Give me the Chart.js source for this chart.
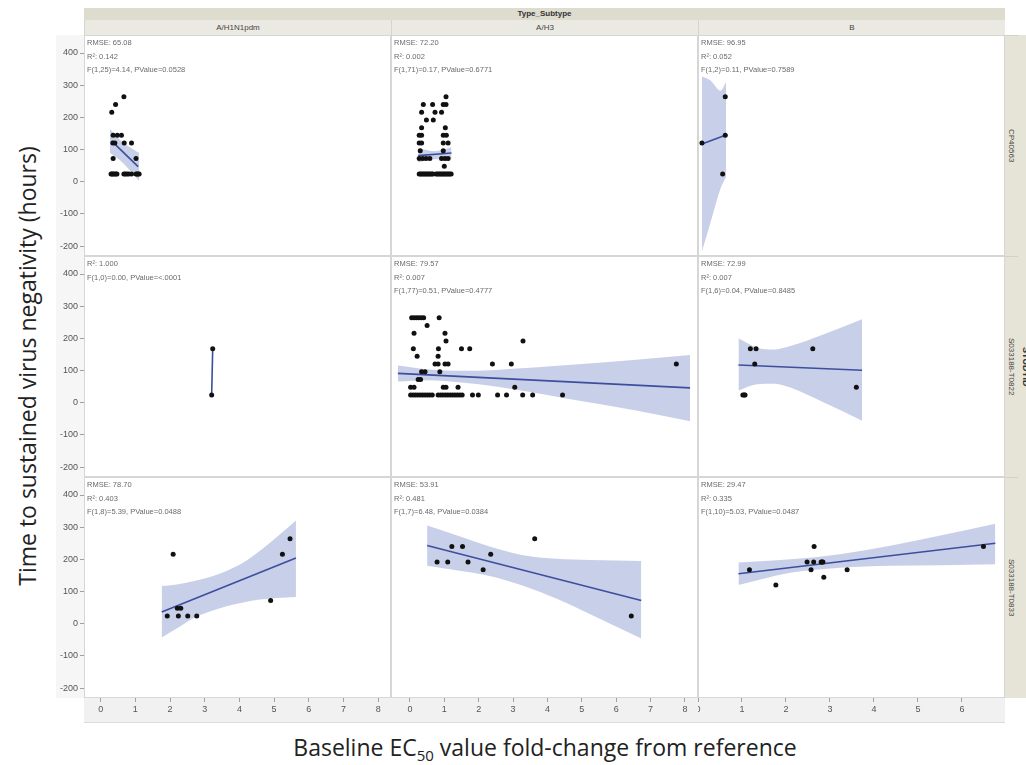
<!DOCTYPE html>
<html lang="en">
<head>
<meta charset="UTF-8">
<title>Time to sustained virus negativity vs baseline EC50 fold-change</title>
<script src="https://cdn.jsdelivr.net/npm/chart.js"></script>
<style>
  body { margin: 0; background: #fff; }
  #page { position: relative; width: 1026px; height: 765px; overflow: hidden; font-family: "Liberation Sans", Arial, sans-serif; }
  #page div, #page canvas { position: absolute; }
  .strip { background: #ebeae2; color: #444; font-size: 8px; text-align: center; box-sizing: border-box; line-height: 15px; }
  .rowlab { writing-mode: vertical-rl; font-size: 8px; color: #444; text-align: center; line-height: 13px; box-sizing: border-box; }
  .title { font-family: "Open Sans", sans-serif; font-size: 23px; color: #222; white-space: nowrap; text-align: center; }
</style>
</head>
<body>
<div id="page"></div>
<script>
// categories and ticks
const subtypes = ['A/H1N1pdm', 'A/H3', 'B'];
const studies = ['CP40563', 'S033188-T0822', 'S033188-T0833'];
const yTicks = [-200, -100, 0, 100, 200, 300, 400];
const xTicksA = [0, 1, 2, 3, 4, 5, 6, 7, 8];
const xTicksB = [0, 1, 2, 3, 4, 5, 6];

// CP40563 - A/H1N1pdm
const cpH1X = [0.32, 0.43, 0.67, 0.36, 0.48, 0.6, 0.35, 0.41, 0.68, 0.89, 0.36, 1.02,
  0.3, 0.33, 0.36, 0.4, 0.44, 0.47, 0.67, 0.71, 0.76, 0.81, 0.89, 1.02, 1.05, 1.08, 1.11];
const cpH1Y = [216, 240, 264, 144, 144, 144, 120, 120, 120, 120, 72, 72,
  24, 24, 24, 24, 24, 24, 24, 24, 24, 24, 24, 24, 24, 24, 24];
const cpH1FitX = [0.32, 1.08];
const cpH1FitY = [126, 47];
const cpH1BandX = [0.27, 0.6, 1.11];
const cpH1BandHi = [163, 126, 89];
const cpH1BandLo = [89, 63, 2];
const cpH1Stats = ['RMSE: 65.08', 'R\u00b2: 0.142', 'F(1,25)=4.14, PValue=0.0528'];

// CP40563 - A/H3
const cpH3X = [1.05, 0.39, 0.66, 0.97, 1.05, 0.34, 0.73, 0.92, 0.48, 0.68, 0.34, 1.03,
  0.27, 0.34, 0.97, 1.06, 0.27, 0.34, 0.97, 1.11, 0.3, 0.97,
  0.27, 0.37, 0.47, 0.58, 0.92, 1.02, 1.11, 1.0,
  0.27, 0.31, 0.35, 0.39, 0.43, 0.47, 0.51, 0.55, 0.59, 0.63, 0.67,
  0.76, 0.8, 0.84, 0.88, 0.92, 0.96, 1.0, 1.04, 1.08, 1.12, 1.16, 1.2];
const cpH3Y = [264, 240, 240, 240, 240, 216, 216, 216, 192, 192, 168, 168,
  144, 144, 144, 144, 120, 120, 120, 120, 96, 96,
  72, 72, 72, 72, 72, 72, 72, 48,
  24, 24, 24, 24, 24, 24, 24, 24, 24, 24, 24,
  24, 24, 24, 24, 24, 24, 24, 24, 24, 24, 24, 24];
const cpH3FitX = [0.24, 1.21];
const cpH3FitY = [81, 89];
const cpH3BandX = [0.24, 0.7, 1.21];
const cpH3BandHi = [104, 95, 107];
const cpH3BandLo = [60, 70, 70];
const cpH3Stats = ['RMSE: 72.20', 'R\u00b2: 0.002', 'F(1,71)=0.17, PValue=0.6771'];

// CP40563 - B
const cpBX = [0.09, 0.62, 0.62, 0.56];
const cpBY = [120, 264, 144, 24];
const cpBFitX = [0.09, 0.62];
const cpBFitY = [117, 144];
const cpBBandX = [0.09, 0.28, 0.51, 0.64];
const cpBBandHi = [327, 315, 283, 310];
const cpBBandLo = [-216, -129, -22, 15];
const cpBStats = ['RMSE: 96.95', 'R\u00b2: 0.052', 'F(1,2)=0.11, PValue=0.7589'];

// S033188-T0822 - A/H1N1pdm
const t22H1X = [3.2, 3.23];
const t22H1Y = [24, 168];
const t22H1FitX = [3.2, 3.23];
const t22H1FitY = [24, 168];
const t22H1BandX = [];
const t22H1BandHi = [];
const t22H1BandLo = [];
const t22H1Stats = ['R\u00b2: 1.000', 'F(1,0)=0.00, PValue=<.0001'];

// S033188-T0822 - A/H3
const t22H3X = [0.05, 0.12, 0.19, 0.26, 0.33, 0.4, 0.85, 0.5, 0.12, 1.02, 1.05, 3.29,
  0.1, 0.83, 1.5, 1.74, 0.21, 0.82, 0.73, 0.82, 1.02, 1.11, 2.4, 2.95, 7.75,
  0.34, 0.44, 0.87, 0.24, 0.31, 0.02, 0.12, 0.97, 1.05, 1.4, 3.05,
  0.02, 0.09, 0.16, 0.23, 0.3, 0.37, 0.44, 0.51, 0.58, 0.65,
  0.82, 0.89, 0.96, 1.03, 1.1, 1.17, 1.24, 1.31, 1.38, 1.45, 1.52,
  1.82, 1.99, 2.55, 2.81, 3.28, 3.57, 4.44];
const t22H3Y = [264, 264, 264, 264, 264, 264, 264, 240, 216, 216, 192, 192,
  168, 168, 168, 168, 144, 144, 120, 120, 120, 120, 120, 120, 120,
  96, 96, 96, 72, 72, 48, 48, 48, 48, 48, 48,
  24, 24, 24, 24, 24, 24, 24, 24, 24, 24,
  24, 24, 24, 24, 24, 24, 24, 24, 24, 24, 24,
  24, 24, 24, 24, 24, 24, 24];
const t22H3FitX = [-0.35, 8.15];
const t22H3FitY = [91, 46];
const t22H3BandX = [-0.35, 0.5, 1.5, 2.5, 4.5, 6.5, 8.15];
const t22H3BandHi = [116, 104, 99, 102, 116, 133, 148];
const t22H3BandLo = [66, 70, 63, 50, 14, -23, -58];
const t22H3Stats = ['RMSE: 79.57', 'R\u00b2: 0.007', 'F(1,77)=0.51, PValue=0.4777'];

// S033188-T0822 - B
const t22BX = [1.02, 1.05, 1.07, 1.19, 1.32, 1.29, 2.61, 3.6];
const t22BY = [24, 24, 24, 168, 168, 120, 168, 48];
const t22BFitX = [0.92, 3.73];
const t22BFitY = [117, 101];
const t22BBandX = [0.92, 1.34, 1.72, 2.1, 2.85, 3.73];
const t22BBandHi = [200, 171, 165, 176, 212, 259];
const t22BBandLo = [38, 57, 59, 47, 1, -56];
const t22BStats = ['RMSE: 72.99', 'R\u00b2: 0.007', 'F(1,6)=0.04, PValue=0.8485'];

// S033188-T0833 - A/H1N1pdm
const t33H1X = [1.92, 2.09, 2.21, 2.31, 2.24, 2.51, 2.77, 4.9, 5.24, 5.46];
const t33H1Y = [24, 216, 48, 48, 24, 24, 24, 72, 216, 264];
const t33H1FitX = [1.76, 5.63];
const t33H1FitY = [36, 204];
const t33H1BandX = [1.76, 2.19, 2.67, 3.15, 3.63, 4.11, 4.59, 5.07, 5.63];
const t33H1BandHi = [117, 122, 132, 145, 164, 190, 227, 269, 321];
const t33H1BandLo = [-43, -15, 17, 38, 54, 66, 75, 80, 83];
const t33H1Stats = ['RMSE: 78.70', 'R\u00b2: 0.403', 'F(1,8)=5.39, PValue=0.0488'];

// S033188-T0833 - A/H3
const t33H3X = [0.79, 1.1, 1.22, 1.53, 1.69, 2.13, 2.35, 3.63, 6.44];
const t33H3Y = [192, 192, 240, 240, 192, 168, 216, 264, 24];
const t33H3FitX = [0.5, 6.73];
const t33H3FitY = [243, 72];
const t33H3BandX = [0.5, 1.35, 2.32, 3.29, 4.26, 5.23, 6.73];
const t33H3BandHi = [305, 275, 240, 213, 202, 198, 195];
const t33H3BandLo = [180, 166, 148, 118, 78, 30, -46];
const t33H3Stats = ['RMSE: 53.91', 'R\u00b2: 0.481', 'F(1,7)=6.48, PValue=0.0384'];

// S033188-T0833 - B
const t33BX = [1.17, 1.77, 2.48, 2.57, 2.63, 2.64, 2.8, 2.82, 2.84, 2.86, 3.39, 6.49];
const t33BY = [168, 120, 192, 168, 192, 240, 192, 192, 192, 144, 168, 240];
const t33BFitX = [0.92, 6.76];
const t33BFitY = [155, 250];
const t33BBandX = [0.92, 2.1, 3.23, 4.37, 5.51, 6.76];
const t33BBandHi = [190, 200, 216, 242, 274, 311];
const t33BBandLo = [120, 158, 174, 180, 182, 185];
const t33BStats = ['RMSE: 29.47', 'R\u00b2: 0.335', 'F(1,10)=5.03, PValue=0.0487'];

// grid of panels (rows = study, columns = subtype)
const panels = [
  [
    { x: cpH1X, y: cpH1Y, fx: cpH1FitX, fy: cpH1FitY, bx: cpH1BandX, hi: cpH1BandHi, lo: cpH1BandLo, stats: cpH1Stats },
    { x: cpH3X, y: cpH3Y, fx: cpH3FitX, fy: cpH3FitY, bx: cpH3BandX, hi: cpH3BandHi, lo: cpH3BandLo, stats: cpH3Stats },
    { x: cpBX, y: cpBY, fx: cpBFitX, fy: cpBFitY, bx: cpBBandX, hi: cpBBandHi, lo: cpBBandLo, stats: cpBStats }
  ],
  [
    { x: t22H1X, y: t22H1Y, fx: t22H1FitX, fy: t22H1FitY, bx: t22H1BandX, hi: t22H1BandHi, lo: t22H1BandLo, stats: t22H1Stats },
    { x: t22H3X, y: t22H3Y, fx: t22H3FitX, fy: t22H3FitY, bx: t22H3BandX, hi: t22H3BandHi, lo: t22H3BandLo, stats: t22H3Stats },
    { x: t22BX, y: t22BY, fx: t22BFitX, fy: t22BFitY, bx: t22BBandX, hi: t22BBandHi, lo: t22BBandLo, stats: t22BStats }
  ],
  [
    { x: t33H1X, y: t33H1Y, fx: t33H1FitX, fy: t33H1FitY, bx: t33H1BandX, hi: t33H1BandHi, lo: t33H1BandLo, stats: t33H1Stats },
    { x: t33H3X, y: t33H3Y, fx: t33H3FitX, fy: t33H3FitY, bx: t33H3BandX, hi: t33H3BandHi, lo: t33H3BandLo, stats: t33H3Stats },
    { x: t33BX, y: t33BY, fx: t33BFitX, fy: t33BFitY, bx: t33BBandX, hi: t33BBandHi, lo: t33BBandLo, stats: t33BStats }
  ]
];

// layout
const colLeft = [84, 391, 698], colW = 307;
const rowTop = [35, 256, 477], rowH = 221;
const AXW = 24, AXH = 24;
const xMin = [-0.48, -0.55, 0], xMax = [8.37, 8.38, 6.98];
const yMin = -231, yMax = 456;
const BAND = 'rgba(118,134,198,0.4)';

Chart.defaults.font.family = '"Liberation Sans", Arial, sans-serif';

const page = document.getElementById('page');
function addDiv(css, html, cls) {
  const d = document.createElement('div');
  d.style.cssText = css;
  if (cls) d.className = cls;
  d.innerHTML = html || '';
  page.appendChild(d);
  return d;
}

// axis backgrounds
addDiv('left:56px;top:35px;width:28px;height:663px;background:#f6f6f6;');
addDiv('left:84px;top:698px;width:921px;height:24px;background:#f1f1f1;border-bottom:1px solid #dcdcdc;');

// header strips
addDiv('left:84px;top:8px;width:921px;height:12px;background:#dddccf;font-size:8px;font-weight:bold;color:#333;text-align:center;line-height:12px;', 'Type_Subtype');
subtypes.forEach((s, c) => {
  addDiv(`left:${colLeft[c]}px;top:20px;width:${colW}px;height:15px;border-left:1px solid #d4d4d0;`, s, 'strip');
});

// right strip with study labels
addDiv('left:1005px;top:35px;width:30px;height:663px;background:#e6e4d7;');
studies.forEach((s, r) => {
  addDiv(`left:1005px;top:${rowTop[r]}px;width:13px;height:${rowH}px;border-top:1px solid #d3d1c4;`, s, 'rowlab');
});
addDiv('left:1019px;top:35px;width:14px;height:663px;writing-mode:vertical-rl;text-align:center;font-size:9px;font-weight:bold;color:#333;line-height:14px;', 'STUDYID');

// axis titles
addDiv('left:-213px;top:351px;width:480px;height:30px;line-height:30px;transform:rotate(-90deg);',
  'Time to sustained virus negativity (hours)', 'title');
addDiv('left:245px;top:733px;width:600px;height:28px;line-height:28px;',
  'Baseline EC<sub style="font-size:15px;vertical-align:-5px;line-height:0">50</sub> value fold-change from reference', 'title');

// white plot area, frame and fit statistics
const panelDecor = {
  id: 'panelDecor',
  beforeDraw(chart) {
    const a = chart.chartArea, ctx = chart.ctx;
    ctx.save();
    ctx.fillStyle = '#fff';
    ctx.fillRect(a.left, a.top, a.width, a.height);
    ctx.restore();
  },
  afterDraw(chart, args, opts) {
    const a = chart.chartArea, ctx = chart.ctx;
    ctx.save();
    ctx.strokeStyle = '#d6d6d6';
    ctx.lineWidth = 1;
    ctx.strokeRect(a.left + 0.5, a.top + 0.5, a.width - 1, a.height - 1);
    ctx.fillStyle = '#6a6a6a';
    ctx.font = '7.5px "Liberation Sans", Arial, sans-serif';
    ctx.textBaseline = 'middle';
    (opts.lines || []).forEach((t, i) => ctx.fillText(t, a.left + 3, a.top + 8 + i * 13.5));
    ctx.restore();
  }
};

function toXY(xs, ys) {
  return xs.map((v, i) => ({ x: v, y: ys[i] }));
}

function makePanel(r, c) {
  const p = panels[r][c];
  const showY = c === 0, showX = r === 2;
  const left = colLeft[c] - (showY ? AXW : 0);
  const w = colW + (showY ? AXW : 0);
  const h = rowH + (showX ? AXH : 0);
  const cv = document.createElement('canvas');
  cv.width = w; cv.height = h;
  cv.style.cssText = `left:${left}px;top:${rowTop[r]}px;width:${w}px;height:${h}px;`;
  page.appendChild(cv);

  const xTicks = c === 2 ? xTicksB : xTicksA;

  new Chart(cv, {
    type: 'scatter',
    data: {
      datasets: [
        { type: 'scatter', data: toXY(p.x, p.y), pointRadius: 2.5, pointHoverRadius: 2.5,
          backgroundColor: '#111', borderWidth: 0 },
        { type: 'line', data: toXY(p.fx, p.fy), borderColor: '#3c4f9e', borderWidth: 1.6,
          pointRadius: 0, fill: false },
        { type: 'line', data: toXY(p.bx, p.hi), borderColor: 'rgba(0,0,0,0)', borderWidth: 0,
          pointRadius: 0, cubicInterpolationMode: 'monotone', fill: '+1', backgroundColor: BAND },
        { type: 'line', data: toXY(p.bx, p.lo), borderColor: 'rgba(0,0,0,0)', borderWidth: 0,
          pointRadius: 0, cubicInterpolationMode: 'monotone', fill: false }
      ]
    },
    options: {
      responsive: false,
      animation: false,
      events: [],
      layout: { padding: 0, autoPadding: false },
      plugins: {
        legend: { display: false },
        tooltip: { enabled: false },
        panelDecor: { lines: p.stats }
      },
      scales: {
        x: {
          type: 'linear', min: xMin[c], max: xMax[c], display: showX,
          afterBuildTicks: s => { s.ticks = xTicks.map(v => ({ value: v })); },
          afterFit: showX ? s => { s.height = AXH; s.paddingLeft = 0; s.paddingRight = 0; } : undefined,
          grid: { drawOnChartArea: false, drawTicks: true, tickLength: 4, color: '#a0a0a0' },
          border: { display: false },
          ticks: { color: '#555', font: { size: 9 }, padding: 2, maxRotation: 0, autoSkip: false }
        },
        y: {
          type: 'linear', min: yMin, max: yMax, display: showY,
          afterBuildTicks: s => { s.ticks = yTicks.map(v => ({ value: v })); },
          afterFit: showY ? s => { s.width = AXW; s.paddingTop = 0; s.paddingBottom = 0; } : undefined,
          grid: { drawOnChartArea: false, drawTicks: true, tickLength: 4, color: '#a0a0a0' },
          border: { display: false },
          ticks: { color: '#555', font: { size: 9 }, padding: 2, autoSkip: false }
        }
      }
    },
    plugins: [panelDecor]
  });
}

for (let r = 0; r < 3; r++) {
  for (let c = 0; c < 3; c++) makePanel(r, c);
}
</script>
</body>
</html>
